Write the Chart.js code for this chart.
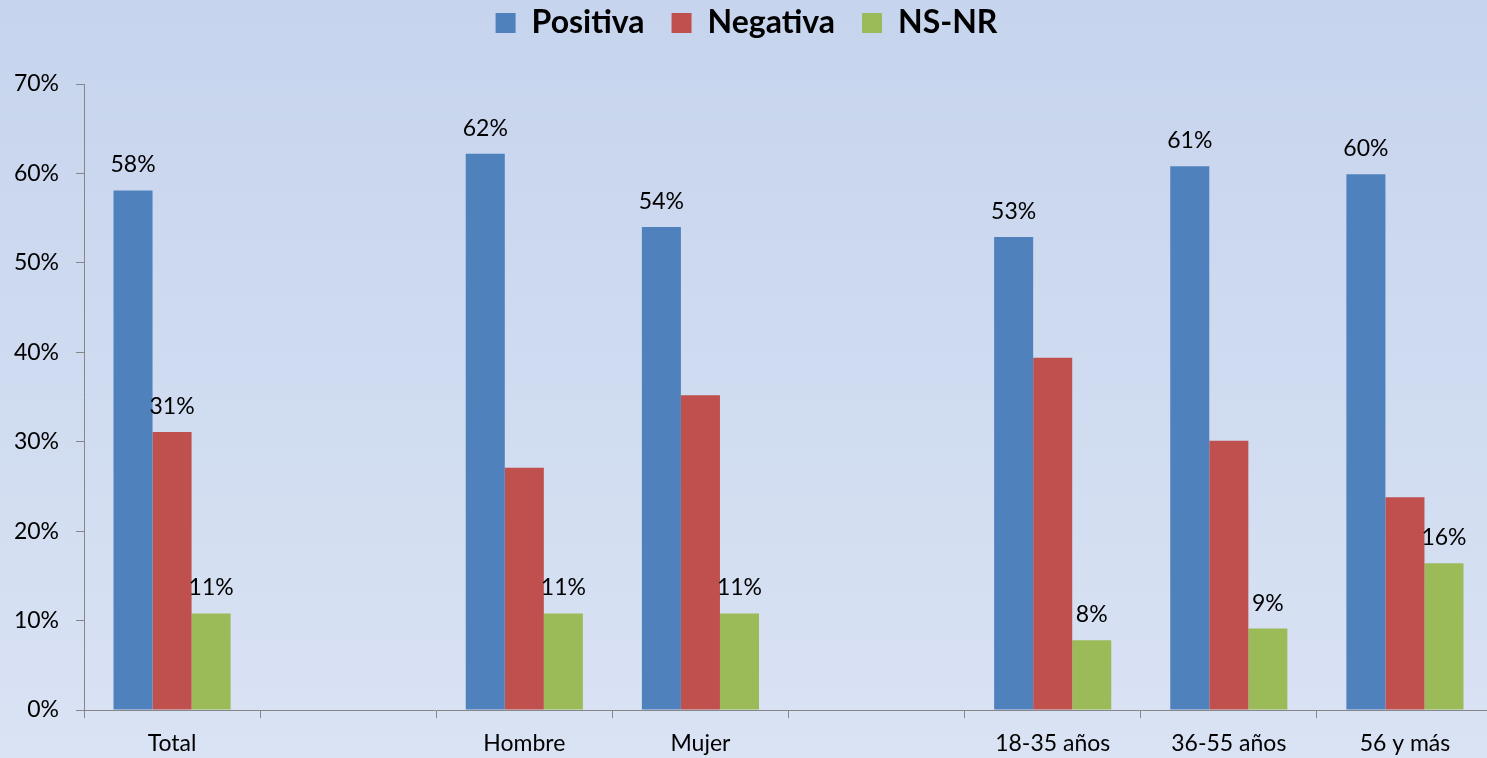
<!DOCTYPE html>
<html>
<head>
<meta charset="utf-8">
<script src="https://cdn.jsdelivr.net/npm/chart.js@4.4.1/dist/chart.umd.min.js"></script>
<style>
  html, body { margin: 0; padding: 0; overflow: hidden; width: 1487px; height: 758px; }
  body { background: linear-gradient(to bottom, #c6d4ed 0%, #cfdbf0 50%, #dae3f4 100%); }
  #wrap { position: absolute; left: 0; top: 0; width: 1493px; height: 758px; }
</style>
</head>
<body>
<div id="wrap"><canvas id="myChart"></canvas></div>
<script>
const categories = ['Total', '', 'Hombre', 'Mujer', '', '18-35 años', '36-55 años', '56 y más'];
const positiva = [58.1, null, 62.2, 54.0, null, 52.9, 60.8, 59.9];
const negativa = [31.1, null, 27.1, 35.2, null, 39.4, 30.1, 23.8];
const nsnr = [10.8, null, 10.8, 10.8, null, 7.8, 9.1, 16.4];

// which bars carry a value label
const showPositiva = [true, false, true, true, false, true, true, true];
const showNegativa = [true, false, false, false, false, false, false, false];
const showNsnr = [true, false, true, true, false, true, true, true];

const yMin = 0;
const yMax = 70;
const yStep = 10;

const axisColor = '#868686';
const tickFont = { family: 'Lato', size: 23 };

// value labels above the bars
const barLabels = {
  id: 'barLabels',
  afterDatasetsDraw(chart) {
    const ctx = chart.ctx;
    ctx.save();
    ctx.font = '23px Lato';
    ctx.fillStyle = '#000';
    ctx.textAlign = 'center';
    ctx.textBaseline = 'alphabetic';
    chart.data.datasets.forEach((ds, i) => {
      chart.getDatasetMeta(i).data.forEach((bar, j) => {
        if (ds.data[j] == null || !ds.showLabel[j]) return;
        ctx.fillText(Math.round(ds.data[j]) + '%', bar.x, bar.y - 18);
      });
    });
    ctx.restore();
  }
};

// leave room between legend and plot
const legendSpace = {
  id: 'legendSpace',
  beforeInit(chart) {
    const fit = chart.legend.fit;
    chart.legend.fit = function() {
      fit.call(this);
      this.height = 104;
    };
  }
};

const ctx = document.getElementById('myChart').getContext('2d');
new Chart(ctx, {
  type: 'bar',
  data: {
    labels: categories,
    datasets: [
      { label: 'Positiva', data: positiva, backgroundColor: '#4f81bd', showLabel: showPositiva },
      { label: 'Negativa', data: negativa, backgroundColor: '#c0504d', showLabel: showNegativa },
      { label: 'NS-NR', data: nsnr, backgroundColor: '#9bbb59', showLabel: showNsnr }
    ]
  },
  options: {
    responsive: true,
    maintainAspectRatio: false,
    animation: false,
    layout: { padding: { top: -20, left: 0, right: 0, bottom: 0 } },
    datasets: {
      bar: { categoryPercentage: 0.665, barPercentage: 1.0 }
    },
    scales: {
      x: {
        grid: { display: true, drawOnChartArea: false, drawTicks: true, tickLength: 8, color: axisColor, offset: true },
        border: { color: axisColor, width: 1 },
        ticks: { color: '#000', font: tickFont, padding: 12, maxRotation: 0, autoSkip: false },
        afterFit(scale) { scale.height = 48; }
      },
      y: {
        min: yMin,
        max: yMax,
        grid: { display: true, drawOnChartArea: false, drawTicks: true, tickLength: 8, color: axisColor },
        border: { color: axisColor, width: 1 },
        ticks: {
          stepSize: yStep,
          color: '#000',
          font: tickFont,
          padding: 17,
          callback: function(value) { return value + '%'; }
        },
        afterFit(scale) { scale.width = 84; }
      }
    },
    plugins: {
      legend: {
        position: 'top',
        labels: {
          color: '#000',
          font: { family: 'Lato', size: 32, weight: 'bold' },
          boxWidth: 20,
          boxHeight: 20,
          padding: 27
        }
      },
      tooltip: { enabled: false }
    }
  },
  plugins: [barLabels, legendSpace]
});
</script>
</body>
</html>
